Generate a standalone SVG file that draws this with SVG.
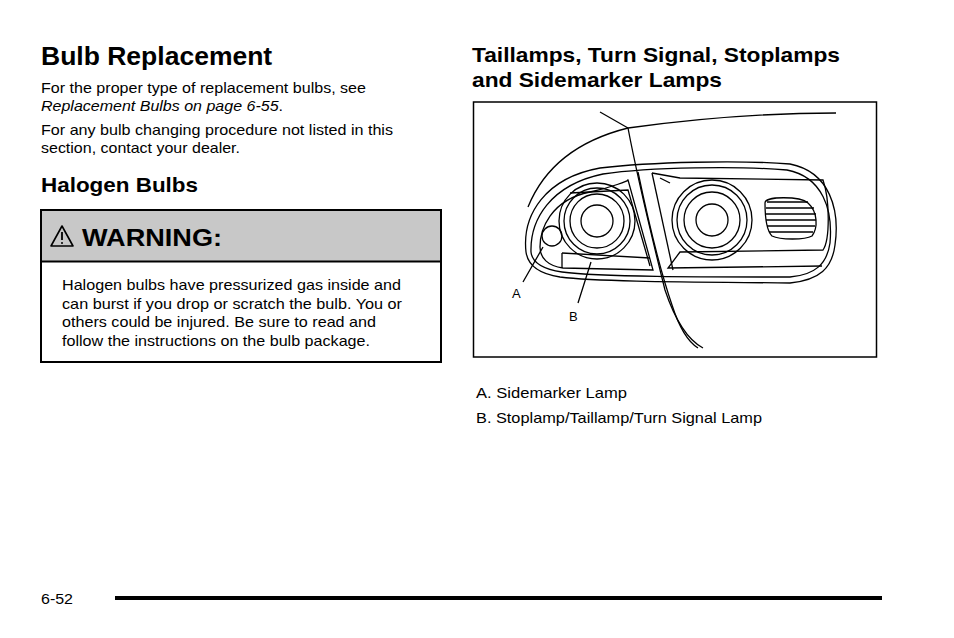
<svg xmlns="http://www.w3.org/2000/svg" width="954" height="638" viewBox="0 0 954 638">
<style>
text{font-family:"Liberation Sans",Arial,sans-serif;fill:#000}
.b{font-size:15px}
.h1{font-size:26.5px;font-weight:bold}
.h2{font-size:21px;font-weight:bold}
.d{fill:none;stroke:#000;stroke-width:1.3}
</style>
<rect width="954" height="638" fill="#fff"/>
<text class="h1" x="41" y="65">Bulb Replacement</text>
<text class="b" x="41" y="93" textLength="325" lengthAdjust="spacingAndGlyphs">For the proper type of replacement bulbs, see</text>
<text class="b" x="41" y="111" font-style="italic" textLength="242" lengthAdjust="spacingAndGlyphs">Replacement Bulbs on page 6-55<tspan font-style="normal">.</tspan></text>
<text class="b" x="41" y="135" textLength="352" lengthAdjust="spacingAndGlyphs">For any bulb changing procedure not listed in this</text>
<text class="b" x="41" y="153" textLength="199" lengthAdjust="spacingAndGlyphs">section, contact your dealer.</text>
<text class="h2" x="41" y="192" textLength="157" lengthAdjust="spacingAndGlyphs">Halogen Bulbs</text>
<g id="warning">
<rect x="41" y="210" width="400" height="152" fill="#fff" stroke="#000" stroke-width="2"/>
<rect x="42" y="211" width="398" height="50" fill="#c8c8c8"/>
<line x1="41" y1="261.5" x2="441" y2="261.5" stroke="#000" stroke-width="2"/>
<path d="M62,226 L73,246 L51,246 Z" fill="none" stroke="#000" stroke-width="1.6" stroke-linejoin="round"/>
<line x1="62" y1="232" x2="62" y2="240" stroke="#000" stroke-width="1.8"/>
<circle cx="62" cy="243" r="1" fill="#000"/>
<text x="82" y="246" font-size="23" font-weight="bold" textLength="140" lengthAdjust="spacingAndGlyphs">WARNING:</text>
<text class="b" x="62" y="290" textLength="339" lengthAdjust="spacingAndGlyphs">Halogen bulbs have pressurized gas inside and</text>
<text class="b" x="62" y="309" textLength="340" lengthAdjust="spacingAndGlyphs">can burst if you drop or scratch the bulb. You or</text>
<text class="b" x="62" y="327" textLength="314" lengthAdjust="spacingAndGlyphs">others could be injured. Be sure to read and</text>
<text class="b" x="62" y="346" textLength="308" lengthAdjust="spacingAndGlyphs">follow the instructions on the bulb package.</text>
</g>
<text class="h2" x="472" y="62" textLength="368" lengthAdjust="spacingAndGlyphs">Taillamps, Turn Signal, Stoplamps</text>
<text class="h2" x="472" y="87" textLength="250" lengthAdjust="spacingAndGlyphs">and Sidemarker Lamps</text>
<g id="illustration">
<rect x="473.5" y="102" width="403" height="255" fill="none" stroke="#000" stroke-width="1.5"/>
<path class="d" d="M528,207 C545,165 580,140 628,128 C700,118 770,113 836,113"/>
<path class="d" d="M600,112 L628,128"/>
<path class="d" d="M628,128 C636,170 650,230 665,290 C675,320 688,340 703,348"/>
<path class="d" d="M638,172 C648,220 660,270 672,305 C680,330 690,343 698,348"/>
<path class="d" d="M526,252 C522,215 545,178 600,168 C650,162 740,160 790,164 C830,172 840,210 835,245 C832,268 820,280 790,283 C700,282 600,282 560,277 C540,274 528,266 526,252 Z"/>
<path class="d" d="M531,252 C530,220 550,185 603,174 C650,167 740,166 787,170 C823,177 833,210 830,243 C827,264 815,275 790,277 C700,277 600,277 562,272 C542,269 532,262 531,252 Z"/>
<path class="d" d="M540,247 C540,230 550,200 590,192 C610,188 630,180 628,180 L653,270 L563,268 C548,266 540,258 540,247 Z"/>
<path class="d" d="M570,193 L628,190 L650,266"/>
<path class="d" d="M562,253 L562,268"/>
<path class="d" d="M562,253 L650,258"/>
<path class="d" d="M652,173 L680,178 L823,180 C830,200 830,240 823,250 L680,252 L668,268 L822,266"/>
<path class="d" d="M652,173 L673,270"/>
<path class="d" d="M660,178 L670,183"/>
<g class="d">
<circle cx="597" cy="221" r="38"/><circle cx="597" cy="221" r="33"/><circle cx="597" cy="221" r="27"/><circle cx="597" cy="221" r="16"/>
<circle cx="712" cy="220" r="40"/><circle cx="712" cy="220" r="35"/><circle cx="712" cy="220" r="28"/><circle cx="712" cy="220" r="16"/>
<circle cx="552" cy="236" r="10"/>
<path d="M765,203 C765,196 800,196 808,203 C818,212 818,228 812,236 C805,240 780,240 772,236 C766,230 765,215 765,203 Z"/>
<path d="M767,202 H808 M766,208 H814 M766,214 H816 M766,220 H816 M767,226 H815 M769,232 H813"/>
</g>
<path class="d" d="M523,282 L543,247 M578,303 L591,262"/>
<text x="512" y="298" font-size="13">A</text>
<text x="569" y="321" font-size="13">B</text>
</g>
<text class="b" x="476" y="398" textLength="151" lengthAdjust="spacingAndGlyphs">A.  Sidemarker Lamp</text>
<text class="b" x="476" y="423" textLength="286" lengthAdjust="spacingAndGlyphs">B.  Stoplamp/Taillamp/Turn Signal Lamp</text>
<text x="41" y="604" font-size="14" textLength="32" lengthAdjust="spacingAndGlyphs">6-52</text>
<rect x="115" y="596" width="767" height="4" fill="#000"/>
</svg>
